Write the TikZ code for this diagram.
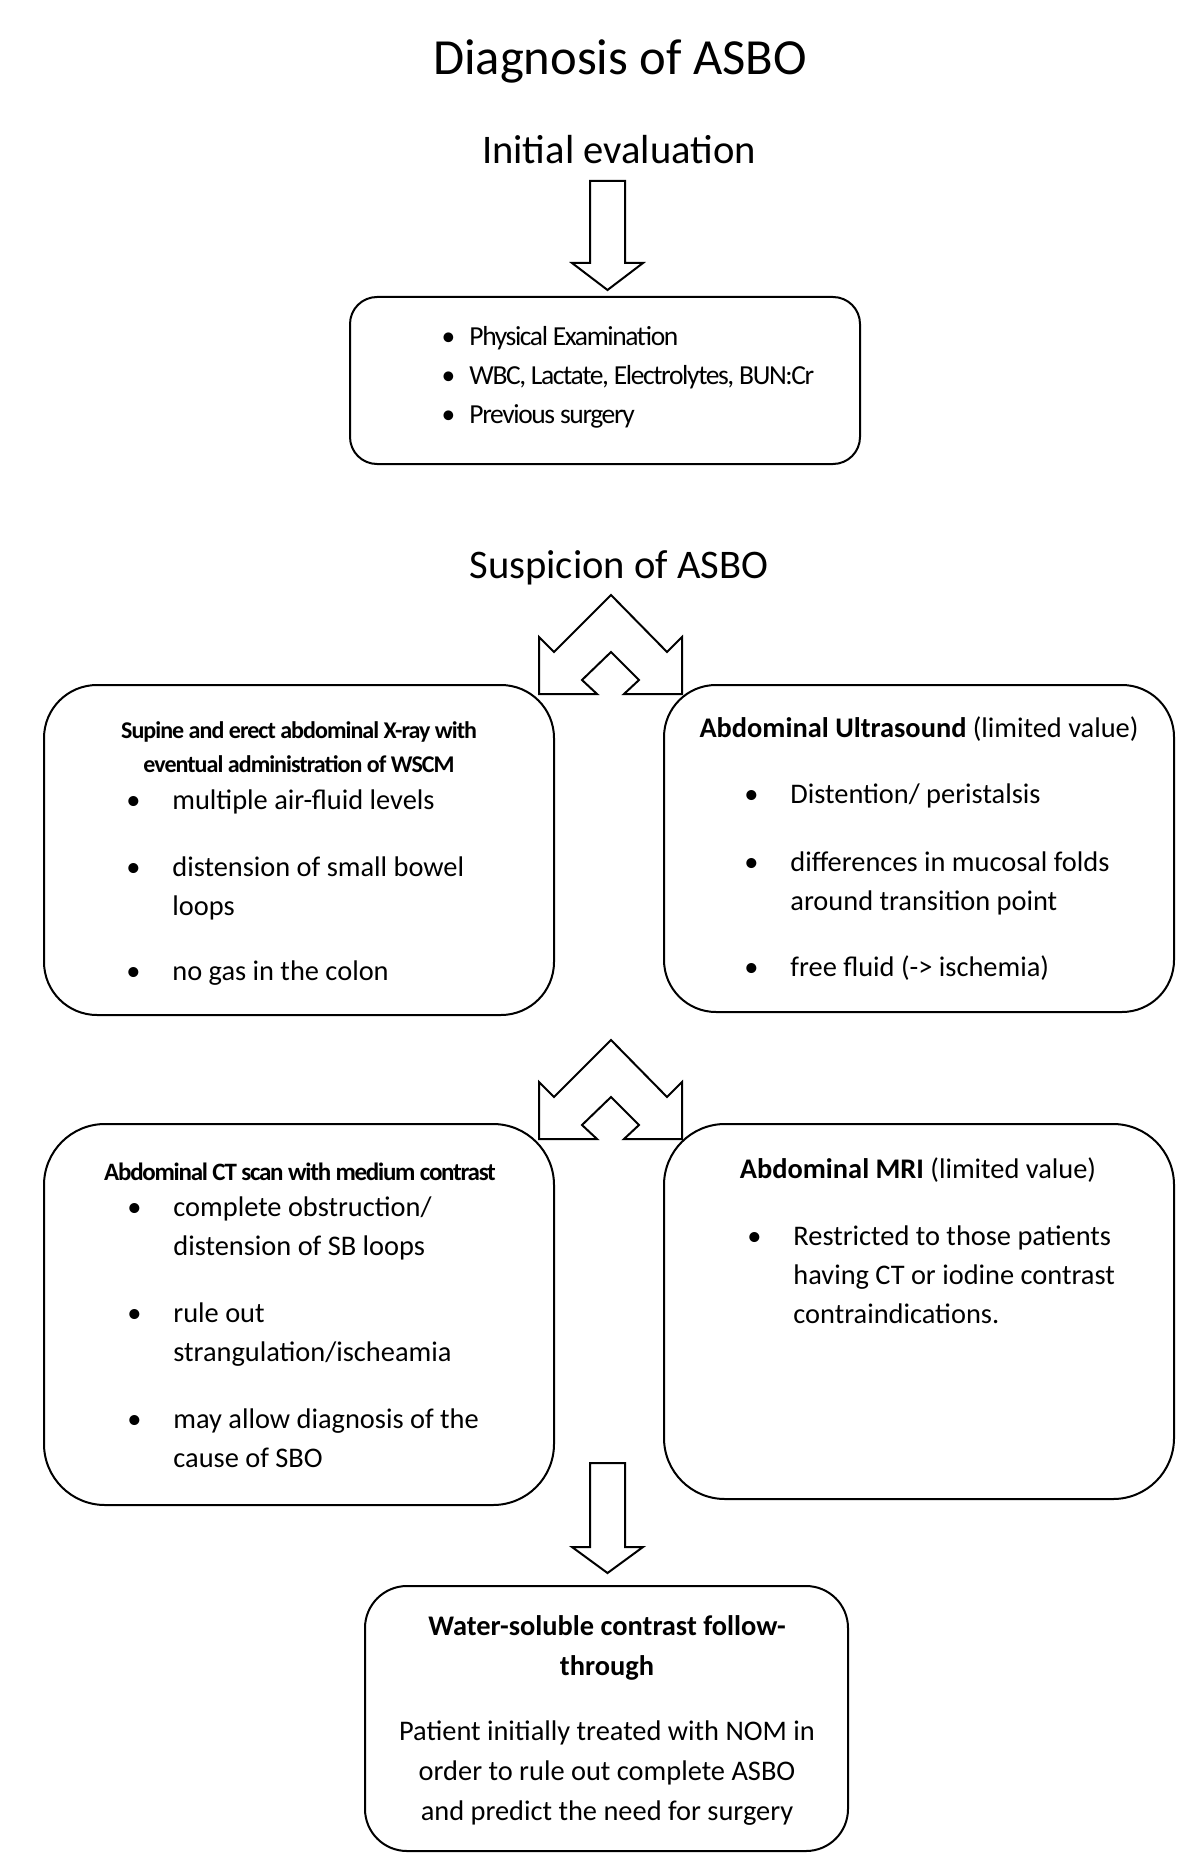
\documentclass[tikz,border=0pt]{standalone}
\usepackage{fontspec}
\setmainfont{Carlito}
\newfontfamily\tightfont[LetterSpace=-5]{Carlito}
\newfontfamily\tighterfont[LetterSpace=-4]{Carlito}
\usetikzlibrary{positioning}

% bullets hanging left of the item text
\newcommand{\bul}{\llap{\textbullet\hspace{16pt}}}
\newcommand{\bulsmall}{\llap{\textbullet\hspace{7pt}}}

\begin{document}
\begin{tikzpicture}[x=0.5pt,y=-0.5pt,
    box/.style={draw,line width=1pt,minimum width=255pt},
    bigtitle/.style={font=\fontsize{25.3}{30}\selectfont,inner sep=0pt},
    subtitle/.style={font=\fontsize{20.3}{24}\selectfont,inner sep=0pt},
    body/.style={font=\fontsize{14.2}{19.5}\selectfont,align=left,inner sep=0pt},
    head/.style={font=\fontsize{14.2}{20}\selectfont,align=center,inner sep=0pt},
    blockarrow/.style={draw,line width=1pt,fill=white,line join=miter} ]

    \useasboundingbox (0,0) rectangle (1200,1866);

    % multi-line nodes sit on the baseline of their last line
    \node[bigtitle,anchor=base] (title) at (620,75) {Diagnosis of ASBO};
    \node[subtitle,anchor=base] (initial) at (619,164) {Initial evaluation};

    % initial evaluation
    \draw[blockarrow] (590,181) -- (625,181) -- (625,263) -- (643,263) -- (607.5,290)
        -- (572,263) -- (590,263) -- cycle;
    \node[box,rounded corners=13.5pt,minimum height=83.5pt] (eval) at (605,380.5) {};
    \node[anchor=base west,align=left,inner sep=0pt,
          font=\tightfont\fontsize{13.75}{19.5}\selectfont] (evalitems) at (469,423)
        {\bulsmall Physical Examination\\ \bulsmall WBC, Lactate, Electrolytes, BUN:Cr\\ \bulsmall Previous surgery};

    \node[subtitle,anchor=base] (susp) at (619,578) {Suspicion of ASBO};

    % split arrows
    \foreach \yy in {595,1040}
        \draw[blockarrow] (611,\yy) -- ++(-57,57) -- ++(-15,-15) -- ++(0,57) -- ++(58,0)
            -- ++(-15,-14) -- ++(29,-28) -- ++(28,28) -- ++(-15,14) -- ++(58,0)
            -- ++(0,-57) -- ++(-15,15) -- cycle;

    % X-ray
    \node[box,rounded corners=26.5pt,minimum height=165pt] (xray) at (299,850) {};
    \node[head,anchor=base,font=\tighterfont\bfseries\fontsize{12}{17}\selectfont] (xrayhead) at (299,772)
        {Supine and erect abdominal X-ray with\\eventual administration of WSCM};
    \node[body,anchor=base west] (xrayitems) at (172,980)
        {\bul multiple air-fluid levels\\[14pt] \bul distension of small bowel\\ loops\\[13pt]
         \bul no gas in the colon};

    % ultrasound
    \node[box,rounded corners=26pt,minimum height=163.5pt] (us) at (919,848.5) {};
    \node[head,anchor=base] (ushead) at (919,737) {\textbf{Abdominal Ultrasound} (limited value)};
    \node[body,anchor=base west] (usitems) at (790,976)
        {\bul Distention/ peristalsis\\[14.5pt] \bul differences in mucosal folds\\ around transition point\\[13.5pt]
         \bul free fluid (-> ischemia)};

    % CT
    \node[box,rounded corners=30.5pt,minimum height=190.5pt] (ct) at (299,1314.5) {};
    \node[head,anchor=base,font=\tightfont\bfseries\fontsize{12.5}{17}\selectfont] (cthead) at (300,1180)
        {Abdominal CT scan with medium contrast};
    \node[body,anchor=base west] (ctitems) at (173,1467)
        {\bul complete obstruction/\\ distension of SB loops\\[14pt] \bul rule out\\ strangulation/ischeamia\\[14pt]
         \bul may allow diagnosis of the\\ cause of SBO};

    % MRI
    \node[box,rounded corners=30.5pt,minimum height=187.5pt] (mri) at (919,1311.5) {};
    \node[head,anchor=base] (mrihead) at (918,1178) {\textbf{Abdominal MRI} (limited value)};
    \node[body,anchor=base west] (mriitems) at (793,1323)
        {\bul Restricted to those patients\\ having CT or iodine contrast\\ contraindications.};

    % follow-through
    \draw[blockarrow] (590,1463) -- (625,1463) -- (625,1547) -- (643,1547) -- (607.5,1573)
        -- (572,1547) -- (590,1547) -- cycle;
    \node[box,rounded corners=21pt,minimum width=241.5pt,minimum height=132.5pt] (wscft) at (606.5,1718.5) {};
    \node[head,anchor=base] (wscfthead) at (607,1675) {\textbf{Water-soluble contrast follow-}\\\textbf{through}};
    \node[head,anchor=base] (wscfttext) at (607,1820)
        {Patient initially treated with NOM in\\order to rule out complete ASBO\\and predict the need for surgery};

\end{tikzpicture}
\end{document}
